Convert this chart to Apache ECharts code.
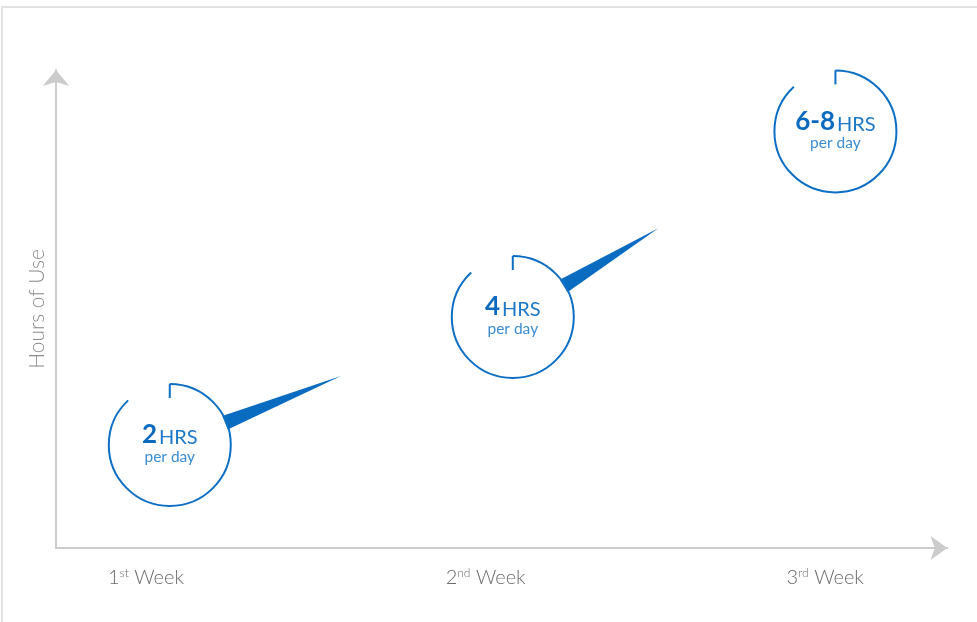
<!DOCTYPE html>
<html>
<head>
<meta charset="utf-8">
<script src="https://cdn.jsdelivr.net/npm/echarts@6/dist/echarts.min.js"></script>
<style>
  html, body { margin: 0; padding: 0; background: #ffffff; }
  #chart { width: 977px; height: 622px; }
</style>
</head>
<body>
<div id="chart"></div>
<script>
// ---- data ----
const tickValues = [1, 2, 3];
const tickNumbers = ['1', '2', '3'];
const tickSuffixes = ['st', 'nd', 'rd'];
const tickWord = 'Week';
const yAxisName = 'Hours of Use';

const pointWeeks = [1.07, 2.08, 3.03];
const pointHours = [2, 4, 6.9];
const bigLabels = ['2', '4', '6-8'];
const unitLabel = 'HRS';
const subLabel = 'per day';

// ---- styling ----
const BLUE = '#0d6fc4';
const FONT = 'Lato';
const R = 61;
const GAP_END = 133 * Math.PI / 180;
const TAIL_FRACTION = [0.504, 0.458];
const TAIL_TILT = -1.5 * Math.PI / 180;
const TAIL_HALF = 7 * Math.PI / 180;

const chart = echarts.init(document.getElementById('chart'), null, { renderer: 'canvas' });

function renderItem(params, api) {
  const i = params.dataIndex;
  const c = api.coord([api.value(0), api.value(1)]);
  const cx = c[0], cy = c[1] + 1;
  const children = [];
  if (i < pointWeeks.length - 1) {
    const n = api.coord([pointWeeks[i + 1], pointHours[i + 1]]);
    const dx = n[0] - c[0], dy = n[1] - c[1];
    const a = Math.atan2(dy, dx) + TAIL_TILT;
    const L = Math.sqrt(dx * dx + dy * dy) * TAIL_FRACTION[i];
    const rr = R - 1;
    children.push({
      type: 'polygon',
      shape: { points: [
        [cx + rr * Math.cos(a - TAIL_HALF), cy + rr * Math.sin(a - TAIL_HALF)],
        [cx + L * Math.cos(a), cy + L * Math.sin(a)],
        [cx + rr * Math.cos(a + TAIL_HALF), cy + rr * Math.sin(a + TAIL_HALF)]
      ] },
      style: { fill: '#0a6cc1' }
    });
  }
  children.push({
    type: 'arc',
    shape: { cx: cx, cy: cy, r: R, startAngle: -Math.PI / 2, endAngle: 2 * Math.PI - GAP_END, clockwise: true },
    style: { stroke: BLUE, lineWidth: 2, fill: 'none' }
  });
  children.push({
    type: 'line',
    shape: { x1: cx, y1: cy - R, x2: cx, y2: cy - R + 14 },
    style: { stroke: BLUE, lineWidth: 2 }
  });
  children.push({
    type: 'text',
    x: cx,
    y: cy - 1,
    style: {
      text: '{b|' + bigLabels[i] + '}{u|' + unitLabel + '}\n{s|' + subLabel + '}',
      align: 'center',
      verticalAlign: 'middle',
      fontFamily: FONT,
      rich: {
        b: { fontSize: 26, fontWeight: 'bold', fill: '#0b6abd', fontFamily: FONT, lineHeight: 26, verticalAlign: 'bottom', padding: [0, 2, 0, 0] },
        u: { fontSize: 20, fill: '#1b77c8', fontFamily: FONT, lineHeight: 24, verticalAlign: 'bottom' },
        s: { fontSize: 15.5, fill: '#3a8cd3', fontFamily: FONT, lineHeight: 18 }
      }
    }
  });
  return { type: 'group', children: children };
}

const option = {
  backgroundColor: '#ffffff',
  animation: false,
  graphic: [{
    type: 'rect',
    z: -10,
    shape: { x: 2, y: 7, width: 1200, height: 800 },
    style: { fill: 'none', stroke: '#e2e2e2', lineWidth: 2 }
  }],
  grid: { left: 56, right: 29.5, top: 70, bottom: 74 },
  xAxis: {
    type: 'value',
    min: 0.735,
    max: 3.36,
    splitLine: { show: false },
    axisTick: { show: false },
    axisLine: {
      show: true, onZero: false,
      symbol: ['none', 'arrow'], symbolSize: [18, 17],
      lineStyle: { color: '#cccccc', width: 2 }
    },
    axisLabel: {
      customValues: tickValues,
      margin: 16,
      formatter: function (v) {
        const k = tickValues.indexOf(Math.round(v));
        if (k < 0) return '';
        return '{n|' + tickNumbers[k] + '}{s|' + tickSuffixes[k] + '}{w| ' + tickWord + '}';
      },
      rich: {
        n: { fontSize: 20, fontFamily: FONT, fontWeight: 300, color: '#6b6b6b', lineHeight: 24, verticalAlign: 'bottom' },
        s: { fontSize: 12, fontFamily: FONT, fontWeight: 300, color: '#6b6b6b', lineHeight: 12, verticalAlign: 'top', padding: [3, 0, 0, 0] },
        w: { fontSize: 20, fontFamily: FONT, fontWeight: 300, color: '#6b6b6b', lineHeight: 24, verticalAlign: 'bottom' }
      }
    }
  },
  yAxis: {
    type: 'value',
    min: 0.375,
    max: 7.844,
    name: yAxisName,
    nameLocation: 'middle',
    nameGap: 8,
    nameTextStyle: { fontSize: 21, fontFamily: FONT, fontWeight: 300, color: '#8a8a8a' },
    splitLine: { show: false },
    axisTick: { show: false },
    axisLabel: { show: false },
    axisLine: {
      show: true,
      symbol: ['none', 'arrow'], symbolSize: [20, 16],
      lineStyle: { color: '#cccccc', width: 2 }
    }
  },
  series: [{
    type: 'custom',
    renderItem: renderItem,
    clip: false,
    data: pointWeeks.map(function (w, k) { return [w, pointHours[k]]; })
  }]
};

chart.setOption(option);
</script>
</body>
</html>
